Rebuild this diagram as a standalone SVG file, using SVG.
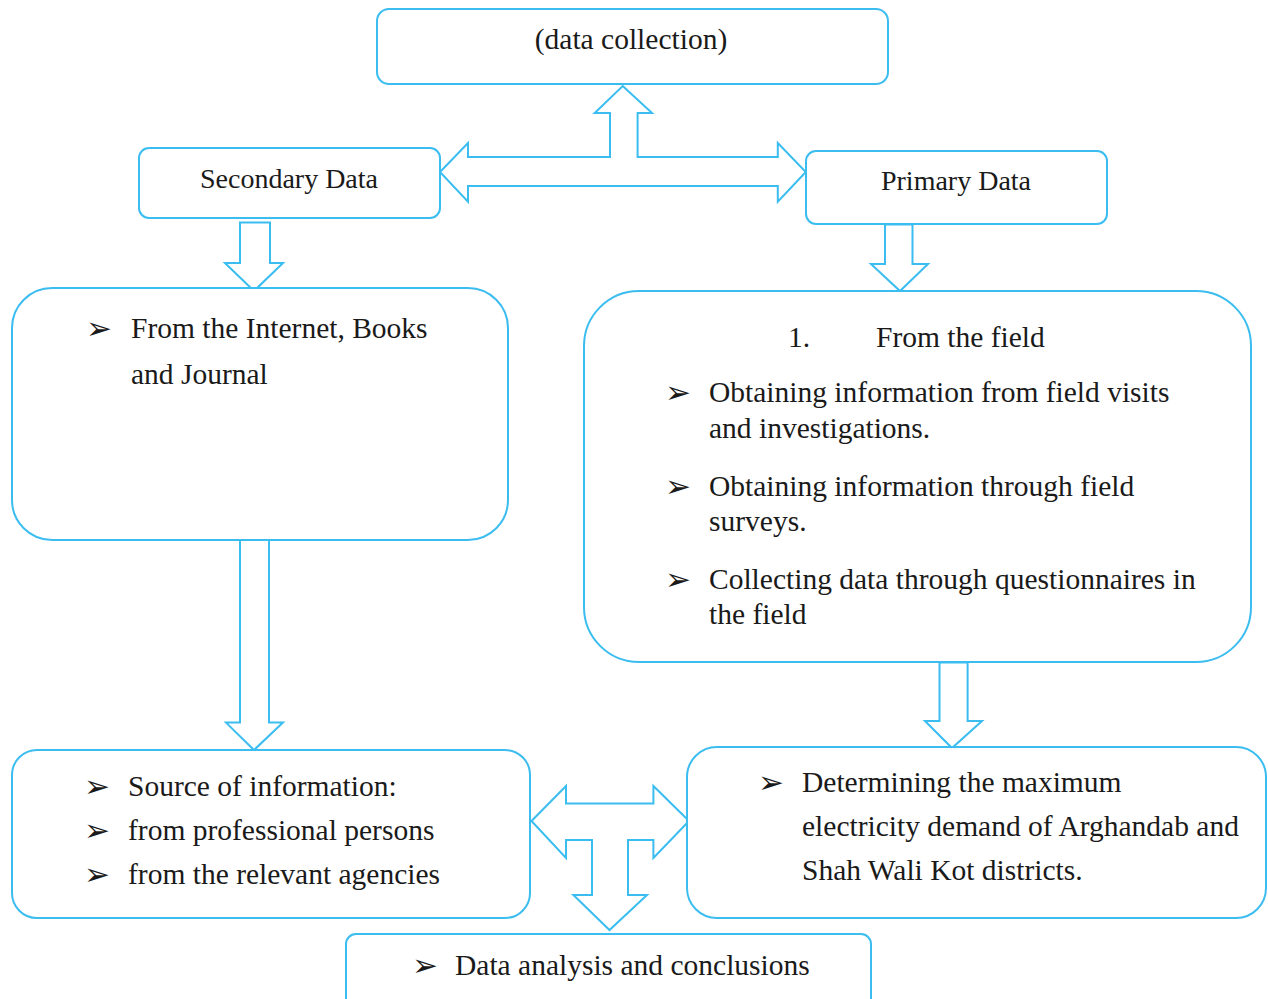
<svg xmlns="http://www.w3.org/2000/svg" width="1268" height="999" viewBox="0 0 1268 999">
<style>
.box{fill:#fff;stroke:#3bbdf0;stroke-width:2}
.arr{fill:#fff;stroke:#3bbdf0;stroke-width:2;stroke-linejoin:miter}
.t{font-family:"Liberation Serif","Times New Roman",serif;font-size:29.5px;fill:#1a1a1a}
.h{font-family:"Liberation Serif","Times New Roman",serif;font-size:28px;fill:#1a1a1a}
.b{font-family:"DejaVu Sans",sans-serif;font-size:31px;fill:#1a1a1a}
</style>
<rect width="1268" height="999" fill="#fff"/>
<g id="connectors">
<path class="arr" d="M622.7,86 L652,113 L637.6,113 L637.6,157 L777.8,157 L777.8,143 L805.8,172 L777.8,201.7 L777.8,186 L468,186 L468,201.7 L440,172 L468,143 L468,157 L610,157 L610,113 L594.7,113 Z"/>
<path class="arr" d="M240,222.5 L270,222.5 L270,263 L283,263 L254,291 L225,263 L240,263 Z"/>
<path class="arr" d="M885,224.5 L912.5,224.5 L912.5,264 L928,264 L900,291 L871,264 L885,264 Z"/>
<path class="arr" d="M240,540 L269,540 L269,722.6 L283,722.6 L254,750 L226,722.6 L240,722.6 Z"/>
<path class="arr" d="M939.5,662.5 L967.6,662.5 L967.6,721 L982,721 L952,748 L925,721 L939.5,721 Z"/>
<path class="arr" d="M531.5,821 L566,786 L566,803.5 L653.4,803.5 L653.4,786 L689,821 L653.4,858 L653.4,840 L628,840 L628,895 L647,895 L609.5,930 L573.4,895 L592,895 L592,840 L566,840 L566,858 Z"/>
</g>
<g id="n-top">
<rect class="box" x="377" y="9" width="511" height="75" rx="12"/>
<text class="t" x="631" y="49" text-anchor="middle">(data collection)</text>
</g>
<g id="n-secondary">
<rect class="box" x="139" y="148" width="301" height="70" rx="10"/>
<text class="h" x="289" y="188" text-anchor="middle">Secondary Data</text>
</g>
<g id="n-primary">
<rect class="box" x="806" y="151" width="301" height="73" rx="10"/>
<text class="h" x="956" y="190" text-anchor="middle">Primary Data</text>
</g>
<g id="n-internet">
<rect class="box" x="12" y="288" width="496" height="252" rx="40"/>
<text class="b" x="86" y="339">➢</text>
<text class="t" x="131" y="338">From the Internet, Books</text>
<text class="t" x="131" y="384">and Journal</text>
</g>
<g id="n-field">
<rect class="box" x="584" y="291" width="667" height="371" rx="55"/>
<text class="t" x="788" y="347">1.</text>
<text class="t" x="876" y="347">From the field</text>
<text class="b" x="665" y="403">➢</text>
<text class="t" x="709" y="402">Obtaining information  from field visits</text>
<text class="t" x="709" y="438">and investigations.</text>
<text class="b" x="665" y="497">➢</text>
<text class="t" x="709" y="496">Obtaining information through field</text>
<text class="t" x="709" y="531">surveys.</text>
<text class="b" x="665" y="590">➢</text>
<text class="t" x="709" y="589">Collecting  data through questionnaires  in</text>
<text class="t" x="709" y="624">the field</text>
</g>
<g id="n-source">
<rect class="box" x="12" y="750" width="518" height="168" rx="25"/>
<text class="b" x="84" y="797">➢</text>
<text class="t" x="128" y="796">Source of information:</text>
<text class="b" x="84" y="841">➢</text>
<text class="t" x="128" y="840">from professional persons</text>
<text class="b" x="84" y="885">➢</text>
<text class="t" x="128" y="884">from the relevant agencies</text>
</g>
<g id="n-demand">
<rect class="box" x="687" y="747" width="579" height="171" rx="30"/>
<text class="b" x="758" y="793">➢</text>
<text class="t" x="802" y="792">Determining the maximum</text>
<text class="t" x="802" y="836">electricity demand of Arghandab and</text>
<text class="t" x="802" y="880">Shah Wali Kot districts.</text>
</g>
<g id="n-analysis">
<rect class="box" x="346" y="934" width="525" height="80" rx="10"/>
<text class="b" x="412" y="976">➢</text>
<text class="t" x="455" y="975">Data analysis and conclusions</text>
</g>
</svg>
